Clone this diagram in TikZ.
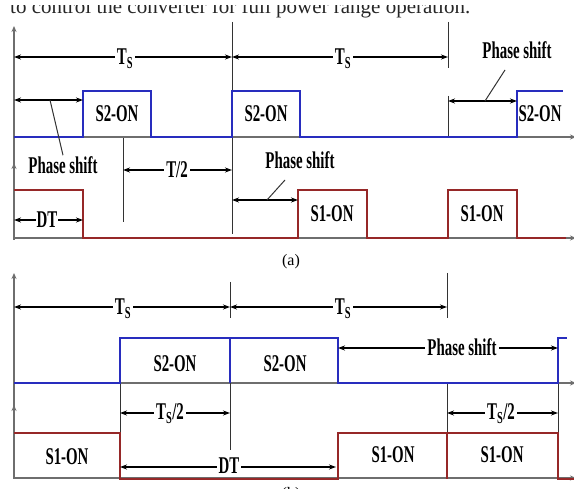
\documentclass[tikz,border=0pt]{standalone}
\usepackage{fontspec}
\setmainfont{Liberation Serif}
\newfontfamily\lbl{Liberation Serif}[FakeStretch=0.62]
\usetikzlibrary{arrows.meta}
\definecolor{wblue}{RGB}{40,45,190}
\definecolor{wred}{RGB}{150,40,40}
\definecolor{axgray}{RGB}{110,110,110}
\tikzset{
  axis/.style={axgray,line width=1.6pt,-{Stealth[length=6pt,width=5pt]}},
  s2wave/.style={wblue,line width=2.4pt,line join=miter},
  s1wave/.style={wred,line width=2.4pt,line join=miter},
  dim/.style={black,line width=1.2pt,{Stealth[length=7pt,width=5pt]}-{Stealth[length=7pt,width=5pt]}},
  guide/.style={black!80,line width=1pt},
  lab/.style={font=\lbl\bfseries\fontsize{24}{24}\selectfont,inner sep=1pt},
  dlab/.style={lab,fill=white,inner xsep=2pt,inner ysep=0pt},
  figcap/.style={font=\fontsize{16}{16}\selectfont,inner sep=0pt}
}
\begin{document}
\begin{tikzpicture}[x=1pt,y=-1pt]
\useasboundingbox (0,0) rectangle (574,489);
\clip (0,0) rectangle (574,489);
\fill[white] (0,0) rectangle (574,489);
% cut-off caption line at top
\node[anchor=base west,inner sep=0pt,text=black!85,font=\fontsize{21}{21}\selectfont] (toptext) at (10,14) {to control the converter for full power range operation.};
\fill[white] (0,0) rectangle (574,5);

% ================= panel (a) =================
\coordinate (aAxB) at (14,240);
\coordinate (aAxT) at (14,26);
\coordinate (aAxM) at (14,163);
\draw[axis] (aAxB) -- (aAxT);
\draw[axis] (aAxB) -- (aAxM);
\coordinate (aH1s) at (14,137); \coordinate (aH1e) at (576,137);
\coordinate (aH2s) at (14,238); \coordinate (aH2e) at (576,238);
\draw[axis] (aH1s) -- (aH1e);
\draw[axis] (aH2s) -- (aH2e);

% guide lines
\coordinate (g1t) at (232,22); \coordinate (g1b) at (232,234);
\draw[guide] (g1t) -- (g1b);
\coordinate (g2t) at (448,22); \coordinate (g2m) at (448,68);
\draw[guide] (g2t) -- (g2m);
\coordinate (g3t) at (448,96); \coordinate (g3b) at (448,137);
\draw[guide] (g3t) -- (g3b);
\coordinate (g4t) at (123,138); \coordinate (g4b) at (123,222);
\draw[guide] (g4t) -- (g4b);

% waveforms
\draw[s2wave] (14,137) -- (83,137) -- (83,91) -- (151,91) -- (151,137) -- (232,137) -- (232,91) -- (300,91) -- (300,137) -- (517,137) -- (517,91) -- (563,91);
\draw[s1wave] (14,190) -- (83,190) -- (83,238) -- (298,238) -- (298,190) -- (367,190) -- (367,238) -- (448,238) -- (448,190) -- (517,190) -- (517,238) -- (566,238);

% dimensions
\coordinate (aT1a) at (14,57); \coordinate (aT1b) at (232,57); \coordinate (aT1c) at (448,57);
\draw[dim] (aT1a) -- (aT1b);
\draw[dim] (aT1b) -- (aT1c);
\node[dlab] (aTs1) at (125,59) {T\textsubscript{S}};
\node[dlab] (aTs2) at (343,59) {T\textsubscript{S}};

\coordinate (aP1a) at (14,100); \coordinate (aP1b) at (83,100);
\draw[dim] (aP1a) -- (aP1b);
\node[lab] (aPS1) at (63,165) {Phase shift};
\coordinate (aP1l) at (50,100);
\draw[guide] (aP1l) -- (aPS1.north);

\coordinate (aHa) at (123,170); \coordinate (aHb) at (232,170);
\draw[dim] (aHa) -- (aHb);
\node[dlab] (aT2) at (177,170) {T/2};

\coordinate (aDa) at (14,220); \coordinate (aDb) at (83,220);
\draw[dim] (aDa) -- (aDb);
\node[dlab,inner xsep=1pt] (aDT) at (47,220) {DT};

\coordinate (aP2a) at (232,200); \coordinate (aP2b) at (298,200);
\draw[dim] (aP2a) -- (aP2b);
\node[lab] (aPS2) at (300,160) {Phase shift};
\coordinate (aP2l) at (267,200); \coordinate (aP2u) at (285,180);
\draw[guide] (aP2l) -- (aP2u);

\coordinate (aP3a) at (448,101); \coordinate (aP3b) at (517,101);
\draw[dim] (aP3a) -- (aP3b);
\node[lab] (aPS3) at (517,50) {Phase shift};
\coordinate (aP3l) at (485,101); \coordinate (aP3u) at (505,70);
\draw[guide] (aP3l) -- (aP3u);

\node[lab] (aS2a) at (117,114) {S2-ON};
\node[lab] (aS2b) at (266,114) {S2-ON};
\node[lab] (aS2c) at (540,114) {S2-ON};
\node[lab] (aS1a) at (332,214) {S1-ON};
\node[lab] (aS1b) at (482,214) {S1-ON};

\node[figcap] (capa) at (291,262) {(a)};

% ================= panel (b) =================
\coordinate (bAxB) at (14,479);
\coordinate (bAxT) at (14,273);
\coordinate (bAxM) at (14,405);
\draw[axis] (bAxB) -- (bAxT);
\draw[axis] (bAxB) -- (bAxM);
\coordinate (bH1s) at (14,383); \coordinate (bH1e) at (576,383);
\coordinate (bH2s) at (14,478); \coordinate (bH2e) at (576,478);
\draw[axis] (bH1s) -- (bH1e);
\draw[axis] (bH2s) -- (bH2e);

\coordinate (h1t) at (230,282); \coordinate (h1b) at (230,318);
\draw[guide] (h1t) -- (h1b);
\coordinate (h1c) at (230,383); \coordinate (h1d) at (230,450);
\draw[guide] (h1c) -- (h1d);
\coordinate (h2t) at (447,273); \coordinate (h2b) at (447,318);
\draw[guide] (h2t) -- (h2b);
\coordinate (h2c) at (447,383); \coordinate (h2d) at (447,479);
\draw[guide] (h2c) -- (h2d);
\coordinate (h3c) at (558,383); \coordinate (h3d) at (558,479);
\draw[guide] (h3c) -- (h3d);
\coordinate (h4c) at (120,383); \coordinate (h4d) at (120,433);
\draw[guide] (h4c) -- (h4d);

\draw[s2wave] (14,383) -- (120,383) -- (120,338) -- (338,338) -- (338,383) -- (558,383) -- (558,338) -- (567,338);
\draw[s2wave,line width=1.8pt] (230,338) -- (230,383);
\draw[s1wave] (14,433) -- (120,433) -- (120,479) -- (338,479) -- (338,433) -- (558,433) -- (558,479) -- (576,479);
\draw[s1wave,line width=1.4pt] (447,433) -- (447,479);

\coordinate (bT1a) at (14,307); \coordinate (bT1b) at (230,307); \coordinate (bT1c) at (447,307);
\draw[dim] (bT1a) -- (bT1b);
\draw[dim] (bT1b) -- (bT1c);
\node[dlab] (bTs1) at (123,309) {T\textsubscript{S}};
\node[dlab] (bTs2) at (343,309) {T\textsubscript{S}};

\coordinate (bPa) at (338,348); \coordinate (bPb) at (558,348);
\draw[dim] (bPa) -- (bPb);
\node[dlab] (bPS) at (462,347) {Phase shift};

\coordinate (bHa) at (120,413); \coordinate (bHb) at (230,413);
\draw[dim] (bHa) -- (bHb);
\node[dlab] (bTh1) at (170,414) {T\textsubscript{S}/2};
\coordinate (bHc) at (447,413); \coordinate (bHd) at (558,413);
\draw[dim] (bHc) -- (bHd);
\node[dlab] (bTh2) at (501,414) {T\textsubscript{S}/2};

\coordinate (bDa) at (120,467); \coordinate (bDb) at (336,467);
\draw[dim] (bDa) -- (bDb);
\node[dlab] (bDT) at (229,466) {DT};

\node[lab] (bS2a) at (175,364) {S2-ON};
\node[lab] (bS2b) at (285,364) {S2-ON};
\node[lab] (bS1a) at (67,457) {S1-ON};
\node[lab] (bS1b) at (393,455) {S1-ON};
\node[lab] (bS1c) at (502,455) {S1-ON};

\node[figcap] (capb) at (291,495) {(b)};
\end{tikzpicture}
\end{document}
